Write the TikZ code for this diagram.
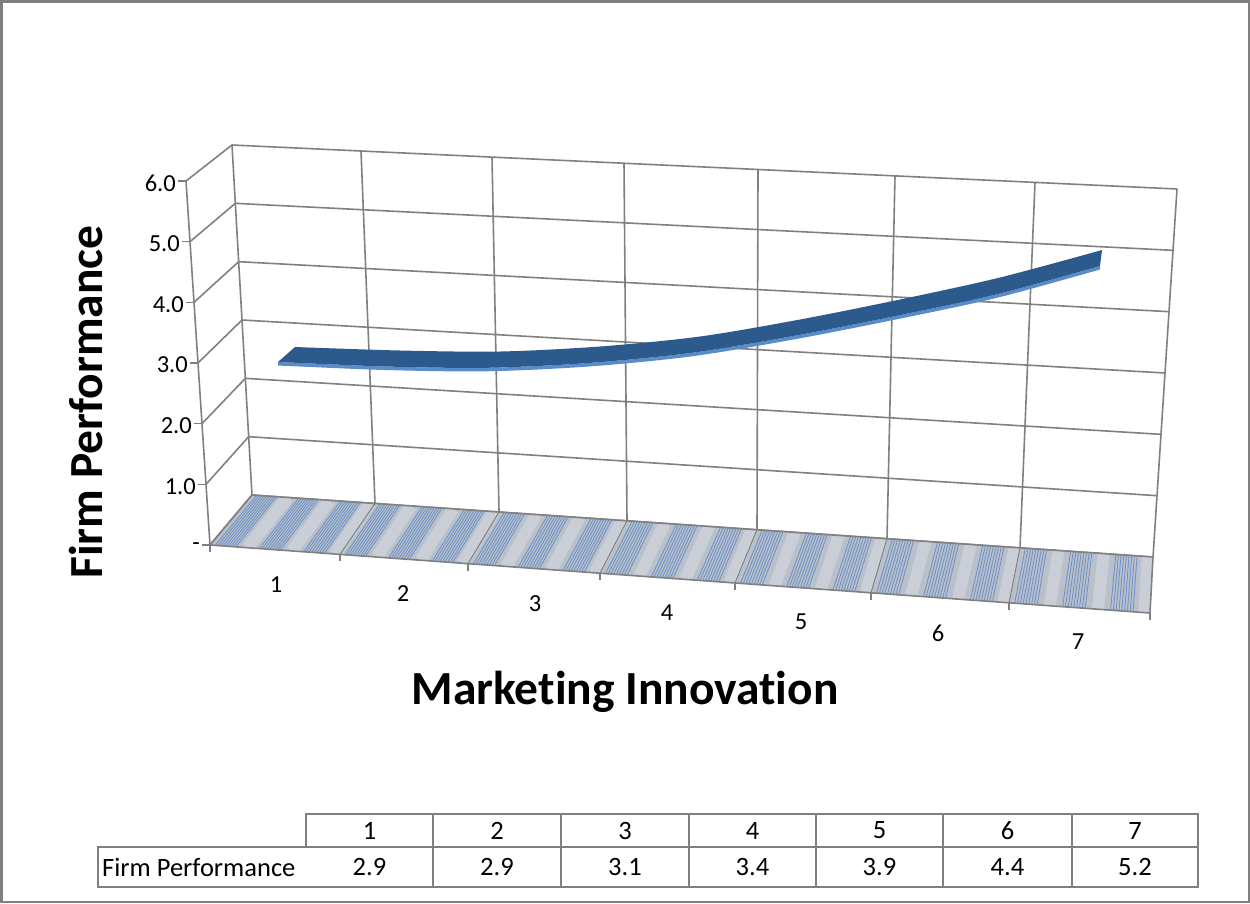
\documentclass[tikz,border=0pt]{standalone}
\usepackage{fontspec}
\setmainfont{Carlito}[Ligatures={NoCommon,NoRare,NoDiscretionary}]
\usetikzlibrary{calc}
\definecolor{gridc}{HTML}{808080}
\definecolor{ribtop}{HTML}{2D5A8C}
\definecolor{ribfront}{HTML}{5A8BCB}
\definecolor{floorbase}{HTML}{B9C0CA}
\definecolor{floorblue}{HTML}{6A90C8}
\definecolor{tablec}{HTML}{808080}
\begin{document}
\begin{tikzpicture}[x=1pt,y=-1pt,
  grid/.style={draw=gridc,line width=1.6pt},
  ticklab/.style={font=\fontsize{24.5}{29}\selectfont,inner sep=0pt},
  tabtxt/.style={font=\fontsize{26.5}{31}\selectfont,inner sep=0pt},
  bigtitle/.style={font=\bfseries\fontsize{47.5}{57}\selectfont,inner sep=0pt},
  tabline/.style={draw=tablec,line width=2pt}]
\useasboundingbox (0,0) rectangle (1250,903);
\draw[gridc,line width=2.5pt] (1.25,1.25) rectangle (1248.75,901.75);

% frame corners
\coordinate (TL) at (232,145);
\coordinate (BL) at (252,495);
\coordinate (TR) at (1177,189);
\coordinate (BR) at (1153,557);
\coordinate (FT) at (186,181);
\coordinate (FB) at (210,545);

% back wall verticals
\foreach \tx/\ty/\bx/\by in {232/145/252/495, 361/151/375/503.5, 492/157.1/499/512,
  624/163.3/627/520.8, 758/169.5/757/529.7, 895/175.9/887/538.7,
  1035/182.4/1020/547.8, 1177/189/1153/557}
  \draw[grid] (\tx,\ty) -- (\bx,\by);
% side wall front axis
\draw[grid] (FB) -- (FT);
% horizontal gridlines, side wall lines, ticks
\foreach \v in {0,...,6}{
  \draw[grid] ($(FB)!\v/6!(FT)$) -- ($(BL)!\v/6!(TL)$) -- ($(BR)!\v/6!(TR)$);
  \draw[grid] ($(FB)!\v/6!(FT)$) -- ++(-8,0);
}

% floor
\foreach \n/\x/\y in {0/252/495, 1/375/503.5, 2/499/512, 3/627/520.8, 4/757/529.7,
  5/887/538.7, 6/1020/547.8, 7/1153/557}
  \coordinate (B\n) at (\x,\y);
\foreach \n/\x/\y in {0/210/545, 1/340/554.4, 2/468/563.7, 3/600/573.2, 4/735/583,
  5/871/592.8, 6/1009/602.8, 7/1150/613}
  \coordinate (F\n) at (\x,\y);
\fill[floorbase] (B0) -- (B7) -- (F7) -- (F0) -- cycle;
\foreach \i in {0,...,6}{
  \pgfmathtruncatemacro\j{\i+1}
  \foreach \s in {0.29,0.63,0.96}
    \draw[white,opacity=0.25,line width=12pt] ($(B\i)!\s!(B\j)$) -- ($(F\i)!\s!(F\j)$);
  \foreach \s in {0.04,0.06,0.08,0.10,0.12,0.14,0.16,0.18,0.20,
                  0.38,0.40,0.42,0.44,0.46,0.48,0.50,0.52,0.54,
                  0.72,0.74,0.76,0.78,0.80,0.82,0.84,0.86,0.88}
    \draw[floorblue,line width=0.8pt] ($(B\i)!\s!(B\j)$) -- ($(F\i)!\s!(F\j)$);
}
\foreach \i in {1,...,6} \draw[gridc,line width=1pt] (B\i) -- (F\i);
\draw[grid] (B0) -- (B7) -- (F7) -- (F0) -- cycle;
\foreach \i in {0,...,7} \draw[grid] (F\i) -- ++(0,7);
\draw[grid] (F0) -- ++(-8,0);

% ribbon
\fill[ribfront] plot[smooth] coordinates {(278,362) (384.95,366.5) (486.8,367.8) (588.7,363)
    (690.5,353) (792.4,336.2) (894.25,316.3) (996.1,294.5) (1100,266)}
  -- plot[smooth] coordinates {(1100,269.5) (996.1,298) (894.25,319.8) (792.4,339.7)
    (690.5,356.5) (588.7,366.5) (486.8,371.3) (384.95,370) (278,365.5)} -- cycle;
\fill[ribtop] plot[smooth] coordinates {(295,347) (400,350.5) (500,351.5) (600,346.5) (700,336.5)
    (800,319.5) (900,299.5) (1000,277.5) (1102,250)}
  -- plot[smooth] coordinates {(1100,266) (996.1,294.5) (894.25,316.3) (792.4,336.2)
    (690.5,353) (588.7,363) (486.8,367.8) (384.95,366.5) (278,362)} -- cycle;

% y tick labels
\foreach \v/\lab in {0/-,1/1.0,2/2.0,3/3.0,4/4.0,5/5.0,6/6.0}
  \node[ticklab,anchor=east] (yl\v) at ($(FB)!\v/6!(FT)+(-10,2)$) {\lab};
% category labels
\foreach \c/\x/\y in {1/276/585, 2/403/594, 3/535/604, 4/667/613, 5/801/622, 6/938/633, 7/1078/642}
  \node[ticklab] (xl\c) at (\x,\y) {\c};

% axis titles
\node[bigtitle,rotate=90,anchor=base] (ytitle) at (102,402) {Firm Performance};
\node[bigtitle,anchor=base] (xtitle) at (625,704) {Marketing Innovation};

% data table
\draw[tabline] (306,814) rectangle (1198,847);
\draw[tabline] (98,847) rectangle (1198,887);
\foreach \x in {433,561,689,816,943,1072}
  \draw[tabline] (\x,814) -- (\x,887);
\node[tabtxt,anchor=west] (rowlab) at (102,867) {Firm Performance};
\foreach \c/\x/\val in {1/369.5/2.9, 2/497/2.9, 3/625/3.1, 4/752.5/3.4, 5/879.5/3.9, 6/1007.5/4.4, 7/1135/5.2}{
  \node[tabtxt] (h\c) at (\x,830.5) {\c};
  \node[tabtxt] (d\c) at (\x,867) {\val};
}
\end{tikzpicture}
\end{document}
